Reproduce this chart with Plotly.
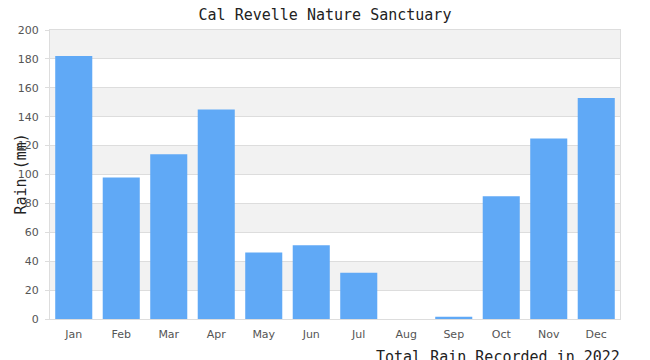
import plotly.graph_objects as go

months = ["Jan", "Feb", "Mar", "Apr", "May", "Jun", "Jul", "Aug", "Sep", "Oct", "Nov", "Dec"]
rain_mm = [182, 98, 114, 145, 46, 51, 32, 0, 1.5, 85, 125, 153]
y_ticks = [0, 20, 40, 60, 80, 100, 120, 140, 160, 180, 200]

mono = "DejaVu Sans Mono"
sans = "DejaVu Sans"

fig = go.Figure()
fig.add_trace(go.Bar(x=months, y=rain_mm, marker=dict(color="#60a9f6", line=dict(width=0))))

shapes = []
for lo in y_ticks[1:-1:2]:
    shapes.append(dict(type="rect", xref="paper", yref="y", x0=0, x1=1, y0=lo, y1=lo + 20,
                       fillcolor="#f2f2f2", line=dict(width=0), layer="below"))

fig.update_layout(
    width=650, height=360,
    margin=dict(l=42, r=38, t=22, b=49),
    paper_bgcolor="white", plot_bgcolor="white",
    title=dict(text="Cal Revelle Nature Sanctuary", x=0.4877, xanchor="center", y=0.9805, yanchor="middle",
               font=dict(family=mono, size=15, color="#222")),
    shapes=shapes,
    bargap=0.22,
    showlegend=False,
    xaxis=dict(showgrid=False, showline=True, linecolor="#dddddd", linewidth=1, mirror=True,
               tickfont=dict(family=sans, size=11, color="#555"),
               ticks="outside", ticklen=5, tickcolor="rgba(0,0,0,0)", automargin=False),
    yaxis=dict(range=[0, 200], tickvals=y_ticks, showgrid=True, gridcolor="#dddddd", gridwidth=1,
               showline=True, linecolor="#dddddd", linewidth=1, mirror=True, zeroline=False,
               ticks="outside", ticklen=4, tickcolor="#dddddd", ticklabelstandoff=4,
               tickfont=dict(family=sans, size=11, color="#555"), automargin=False),
    annotations=[
        dict(text="Rain (mm)", xref="paper", yref="paper", x=-0.0526, y=0.5, textangle=-90,
             xanchor="center", yanchor="middle", showarrow=False,
             font=dict(family=mono, size=15, color="#222")),
        dict(text="Total Rain Recorded in 2022", xref="paper", yref="paper", x=1.003, y=-0.0934,
             xanchor="right", yanchor="top", showarrow=False,
             font=dict(family=mono, size=15, color="#222")),
    ],
)

fig.write_html("out.html")
